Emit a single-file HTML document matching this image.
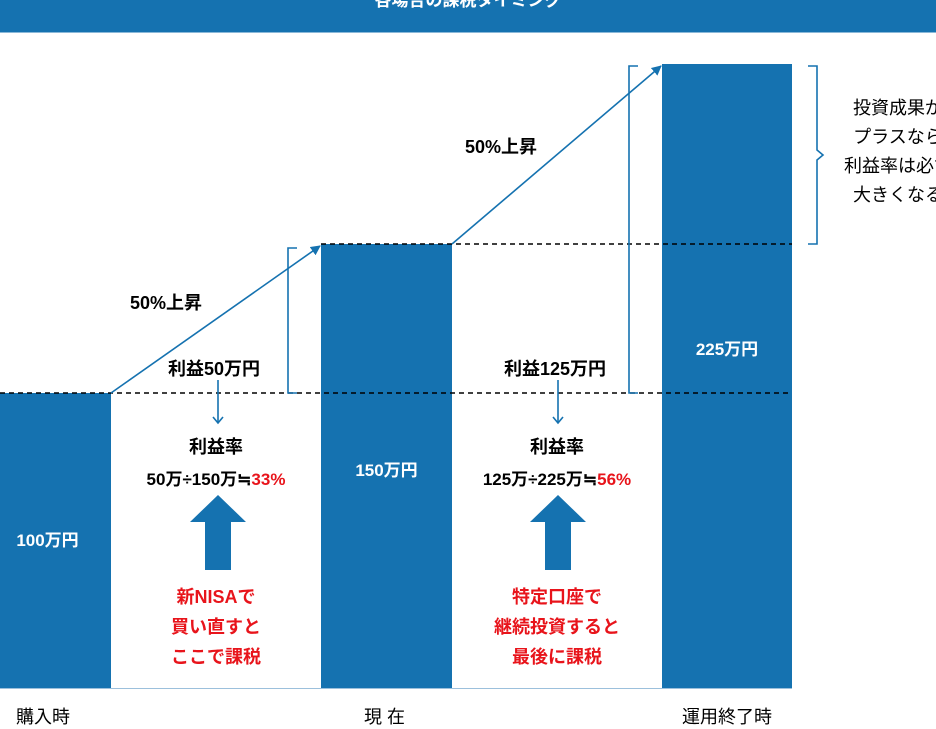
<!DOCTYPE html>
<html><head><meta charset="utf-8"><style>
body{margin:0;width:936px;height:716px;overflow:hidden;background:#fff;font-family:"Liberation Sans","Noto Sans CJK JP",sans-serif;position:relative}
.a{position:absolute}
.bar{position:absolute;background:#1572b0}
.t{position:absolute;font-weight:bold;font-size:17px;text-align:center;white-space:nowrap}
.w{color:#fff}
.r{color:#e8141b}
</style></head><body>
<div class="a" style="left:0;top:0;width:936px;height:32px;background:#1572b0;border-bottom:1px solid #8ab8d8"></div>
<div class="t w" style="left:0;width:936px;top:-14px;font-size:17px">各場合の課税タイミング</div>
<div class="bar" style="left:0;top:393px;width:111px;height:296px"></div>
<div class="bar" style="left:321px;top:244px;width:131px;height:445px"></div>
<div class="bar" style="left:662px;top:64px;width:130px;height:625px"></div>
<div class="a" style="left:0;top:688px;width:792px;height:1px;background:#9cc0dc"></div>
<svg class="a" style="left:0;top:0" width="936" height="716">
<defs><marker id="m" markerWidth="10" markerHeight="10" refX="9" refY="5" orient="auto" markerUnits="userSpaceOnUse"><path d="M0,0L10,5L0,10z" fill="#1572b0"/></marker></defs>
<g stroke="#000" stroke-dasharray="5,4" stroke-width="1.5"><line x1="0" y1="393" x2="792" y2="393"/><line x1="321" y1="244" x2="792" y2="244"/></g>
<g stroke="#1572b0" stroke-width="1.6" fill="none">
<line x1="111" y1="393" x2="320" y2="246" marker-end="url(#m)"/>
<line x1="452" y1="244" x2="661" y2="66" marker-end="url(#m)"/>
<path d="M297,248H288V393H297"/>
<path d="M638,66H629V393H638"/>
<path d="M808,66H817V150L823,155L817,160V244H808"/>
<line x1="218" y1="380" x2="218" y2="422"/><path d="M213,417L218,423L223,417"/>
<line x1="558" y1="380" x2="558" y2="422"/><path d="M553,417L558,423L563,417"/>
</g>
<g fill="#1572b0"><path d="M190,522L218,495L246,522H231V570H205V522z"/><path d="M530,522L558,495L586,522H571V570H545V522z"/></g>
</svg>
<div class="t w" style="left:0;width:95px;top:526px">100万円</div>
<div class="t w" style="left:321px;width:131px;top:456px">150万円</div>
<div class="t w" style="left:662px;width:130px;top:335px">225万円</div>
<div class="t" style="left:130px;top:289px;font-size:18px">50%上昇</div>
<div class="t" style="left:465px;top:133px;font-size:18px">50%上昇</div>
<div class="t" style="left:168px;top:355px;font-size:18px">利益50万円</div>
<div class="t" style="left:504px;top:355px;font-size:18px">利益125万円</div>
<div class="t" style="left:111px;width:210px;top:433px;font-size:18px">利益率</div>
<div class="t" style="left:111px;width:210px;top:465px">50万÷150万≒<span class="r">33%</span></div>
<div class="t" style="left:452px;width:210px;top:433px;font-size:18px">利益率</div>
<div class="t" style="left:452px;width:210px;top:465px">125万÷225万≒<span class="r">56%</span></div>
<div class="t r" style="left:111px;width:210px;top:582px;line-height:30px;font-size:18px">新NISAで<br>買い直すと<br>ここで課税</div>
<div class="t r" style="left:452px;width:210px;top:582px;line-height:30px;font-size:18px">特定口座で<br>継続投資すると<br>最後に課税</div>
<div class="a" style="left:844px;top:94px;font-size:18px;line-height:29px;text-align:center;white-space:nowrap">投資成果が<br>プラスなら<br>利益率は必ず<br>大きくなる</div>
<div class="a" style="left:16px;top:703px;font-size:18px">購入時</div>
<div class="a" style="left:364px;top:703px;font-size:18px">現 在</div>
<div class="a" style="left:682px;top:703px;font-size:18px">運用終了時</div>
</body></html>
